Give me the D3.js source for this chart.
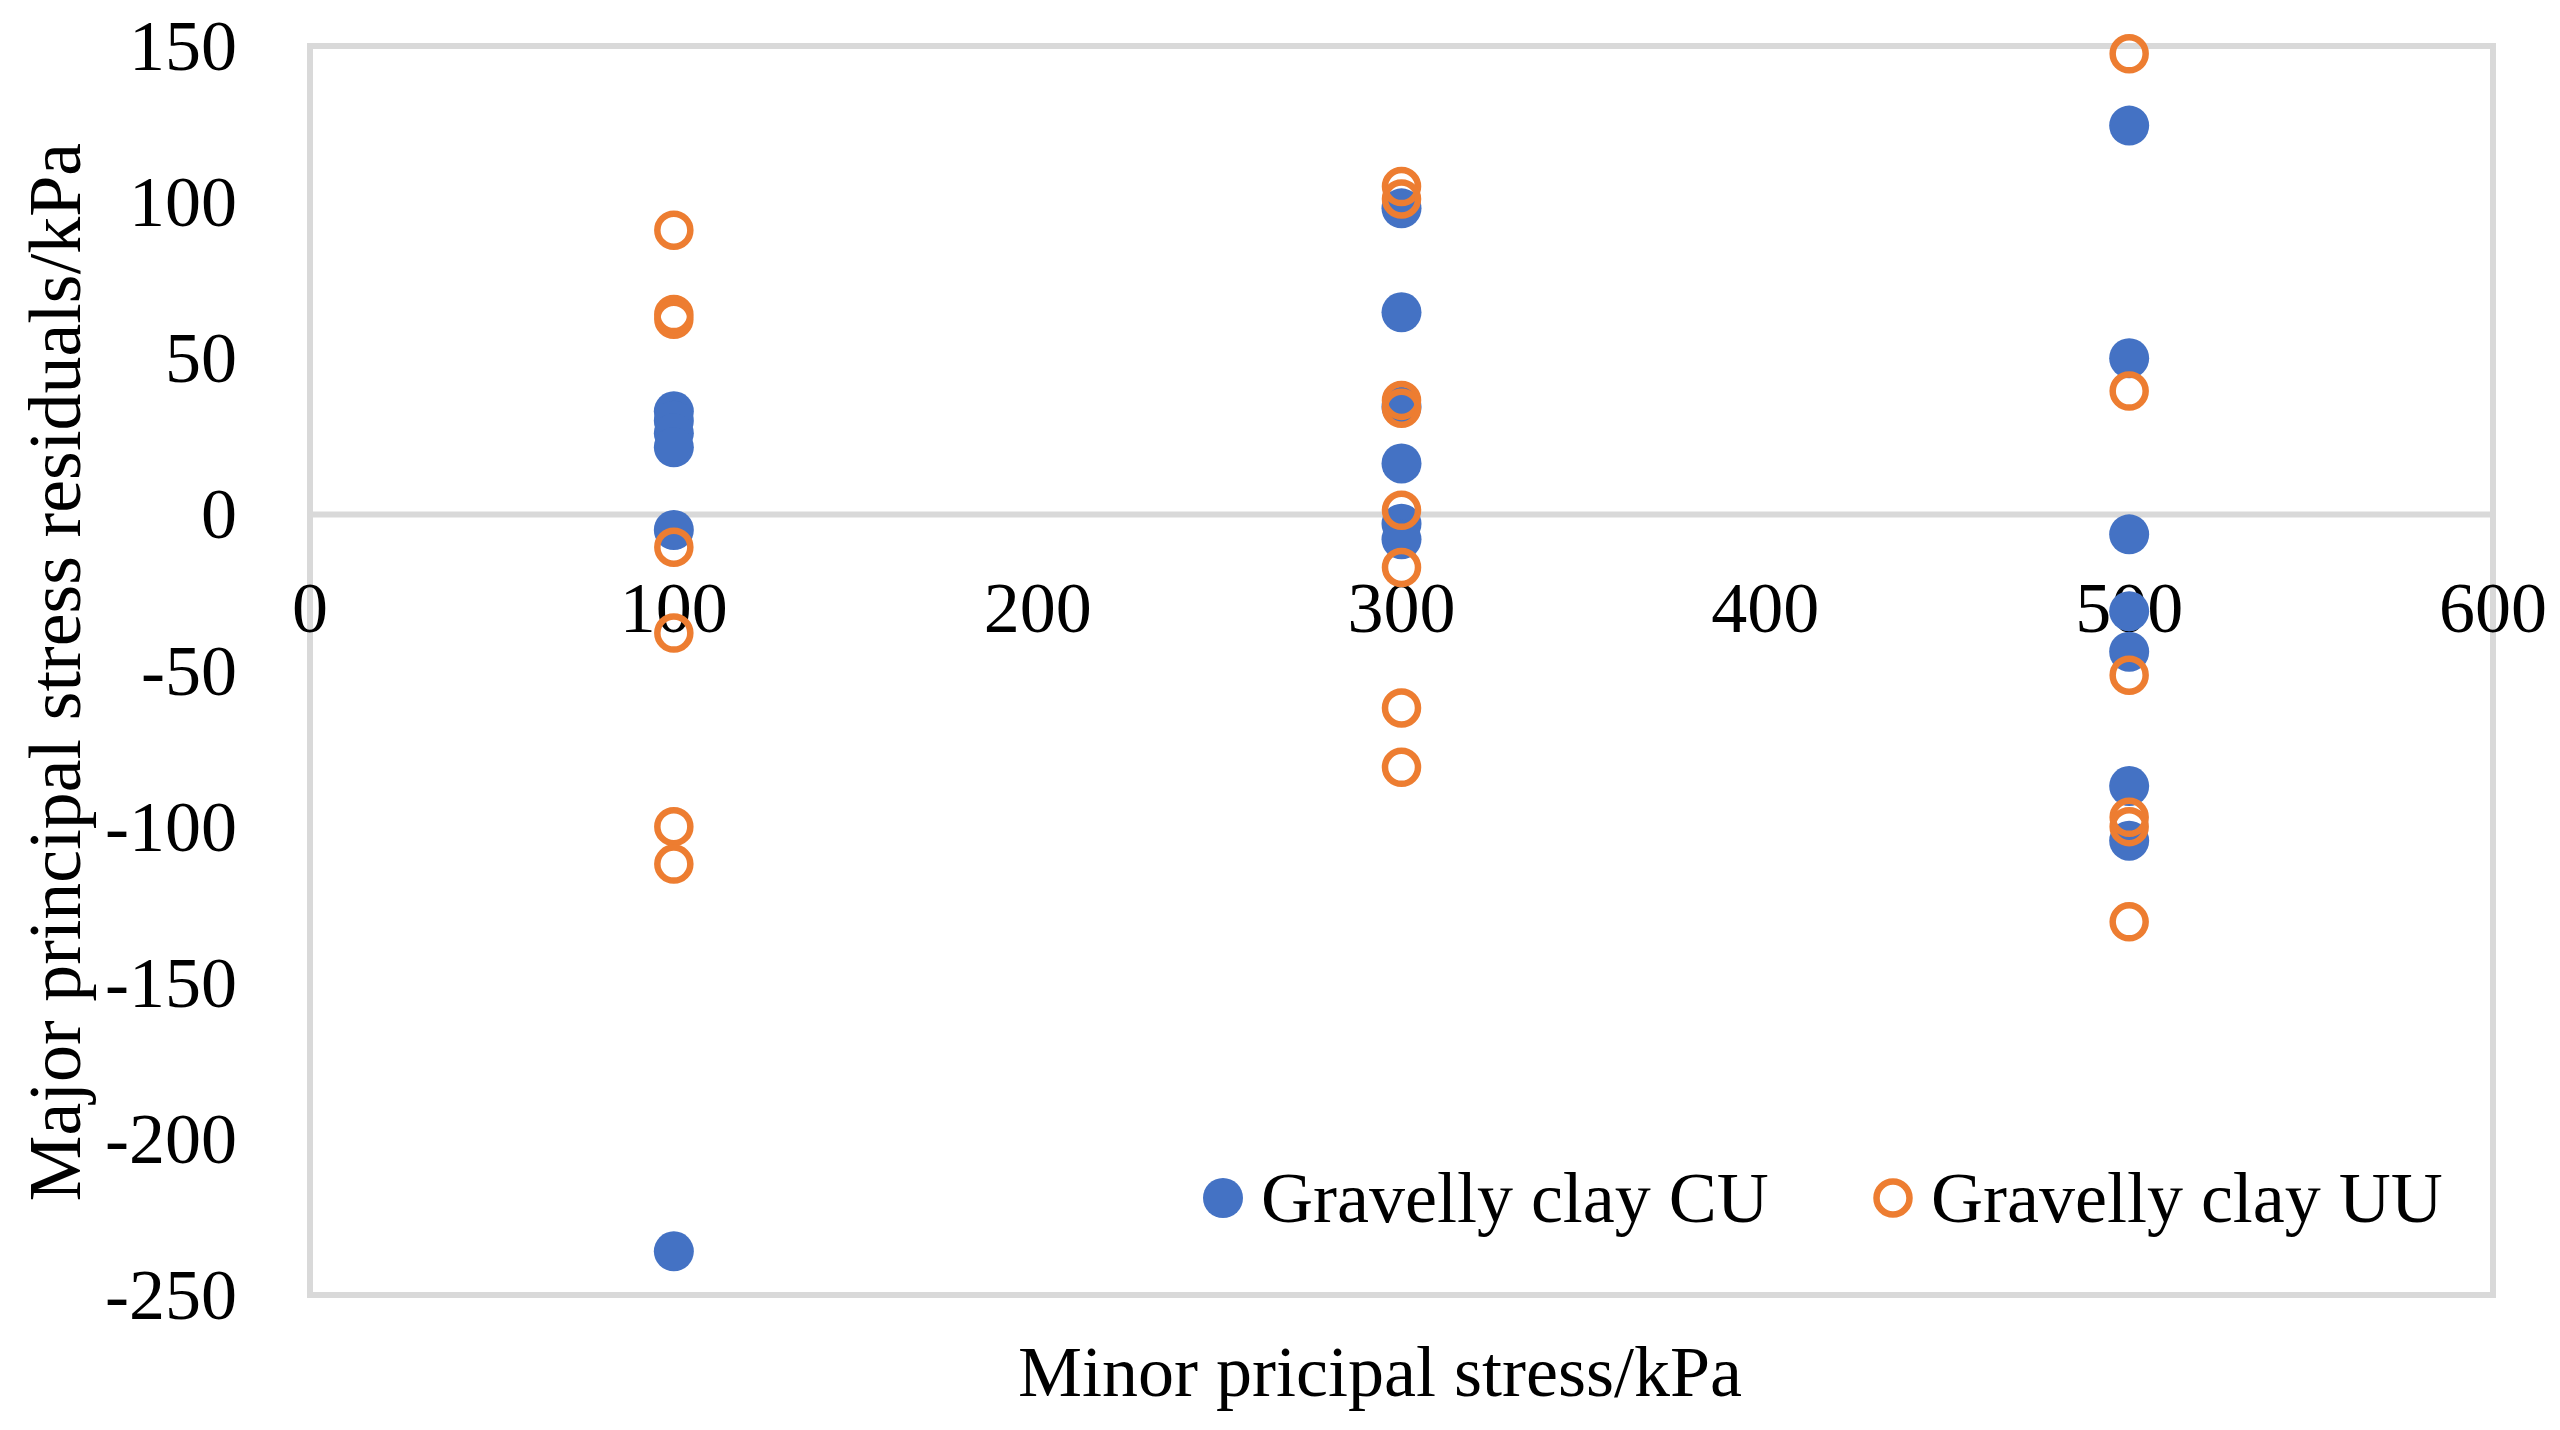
<!DOCTYPE html>
<html>
<head>
<meta charset="utf-8">
<script src="https://cdn.jsdelivr.net/npm/d3@7/dist/d3.min.js"></script>
<style>
  body { margin: 0; background: #fff; }
  text { font-family: "Liberation Serif", "Times New Roman", serif; fill: #000; }
</style>
</head>
<body>
<div id="chart"></div>
<script>
var w = 2560;
var h = 1430;

// Gravelly clay CU
var cuStress = [100, 100, 100, 100, 100, 100,
	300, 300, 300, 300, 300, 300,
	500, 500, 500, 500, 500, 500, 500];
var cuResidual = [33, 30, 26, 21.5, -5, -236,
	98, 64.7, 34.5, 16.3, -3, -8,
	124.5, 50, -6.4, -31, -44, -87, -104.5];

// Gravelly clay UU
var uuStress = [100, 100, 100, 100, 100, 100, 100,
	300, 300, 300, 300, 300, 300, 300, 300,
	500, 500, 500, 500, 500, 500];
var uuResidual = [91, 64, 62.5, -10.5, -38, -100, -112,
	105, 101, 36.5, 34, 1.3, -17, -62, -81,
	147.5, 39.5, -51.5, -97, -100, -130.5];

var xTicks = [0, 100, 200, 300, 400, 500, 600];
var yTicks = [150, 100, 50, 0, -50, -100, -150, -200, -250];
var seriesNames = ['Gravelly clay CU', 'Gravelly clay UU'];

var blue = '#4472C4';
var orange = '#ED7D31';
var gridColor = '#D9D9D9';

var plot = { left: 310, right: 2493, top: 46, bottom: 1295 };

var x = d3.scaleLinear().domain([0, 600]).range([plot.left, plot.right]);
var y = d3.scaleLinear().domain([-250, 150]).range([plot.bottom, plot.top]);

var svg = d3.select('#chart')
	.append('svg')
	.attr('width', w)
	.attr('height', h);

svg.append('rect')
	.attr('width', w)
	.attr('height', h)
	.attr('fill', '#fff');

// plot frame
svg.append('rect')
	.attr('x', x(0))
	.attr('y', y(150))
	.attr('width', x(600) - x(0))
	.attr('height', y(-250) - y(150))
	.attr('fill', 'none')
	.attr('stroke', gridColor)
	.attr('stroke-width', 6);

// zero line (x axis)
svg.append('line')
	.attr('x1', x(0))
	.attr('x2', x(600))
	.attr('y1', y(0))
	.attr('y2', y(0))
	.attr('stroke', gridColor)
	.attr('stroke-width', 6);

// y tick labels
svg.selectAll('text.ytick')
	.data(yTicks)
	.enter()
	.append('text')
	.attr('class', 'ytick')
	.text(function (d) { return d; })
	.attr('x', 237)
	.attr('y', function (d) { return y(d) + 24; })
	.attr('font-size', '72px')
	.attr('text-anchor', 'end');

// x tick labels sit under the zero line
svg.selectAll('text.xtick')
	.data(xTicks)
	.enter()
	.append('text')
	.attr('class', 'xtick')
	.text(function (d) { return d; })
	.attr('x', function (d) { return x(d); })
	.attr('y', y(0) + 118)
	.attr('font-size', '72px')
	.attr('text-anchor', 'middle');

// CU points
svg.selectAll('circle.cu')
	.data(cuStress)
	.enter()
	.append('circle')
	.attr('class', 'cu')
	.attr('cx', function (d) { return x(d); })
	.attr('cy', function (d, i) { return y(cuResidual[i]); })
	.attr('r', 20)
	.attr('fill', blue);

// UU points
svg.selectAll('circle.uu')
	.data(uuStress)
	.enter()
	.append('circle')
	.attr('class', 'uu')
	.attr('cx', function (d) { return x(d); })
	.attr('cy', function (d, i) { return y(uuResidual[i]); })
	.attr('r', 16.5)
	.attr('fill', 'none')
	.attr('stroke', orange)
	.attr('stroke-width', 6.5);

// legend
var legend = svg.append('g');
legend.append('circle')
	.attr('cx', 1223)
	.attr('cy', 1198)
	.attr('r', 20)
	.attr('fill', blue);
legend.append('text')
	.text(seriesNames[0])
	.attr('x', 1261)
	.attr('y', 1222)
	.attr('font-size', '72px');
legend.append('circle')
	.attr('cx', 1893)
	.attr('cy', 1198)
	.attr('r', 16.5)
	.attr('fill', 'none')
	.attr('stroke', orange)
	.attr('stroke-width', 6.5);
legend.append('text')
	.text(seriesNames[1])
	.attr('x', 1931)
	.attr('y', 1222)
	.attr('font-size', '72px');

// axis titles
svg.append('text')
	.text('Minor pricipal stress/kPa')
	.attr('x', 1380)
	.attr('y', 1396)
	.attr('font-size', '72px')
	.attr('text-anchor', 'middle');

svg.append('text')
	.text('Major principal stress residuals/kPa')
	.attr('transform', 'translate(80,672) rotate(-90)')
	.attr('font-size', '74px')
	.attr('text-anchor', 'middle');
</script>
</body>
</html>
